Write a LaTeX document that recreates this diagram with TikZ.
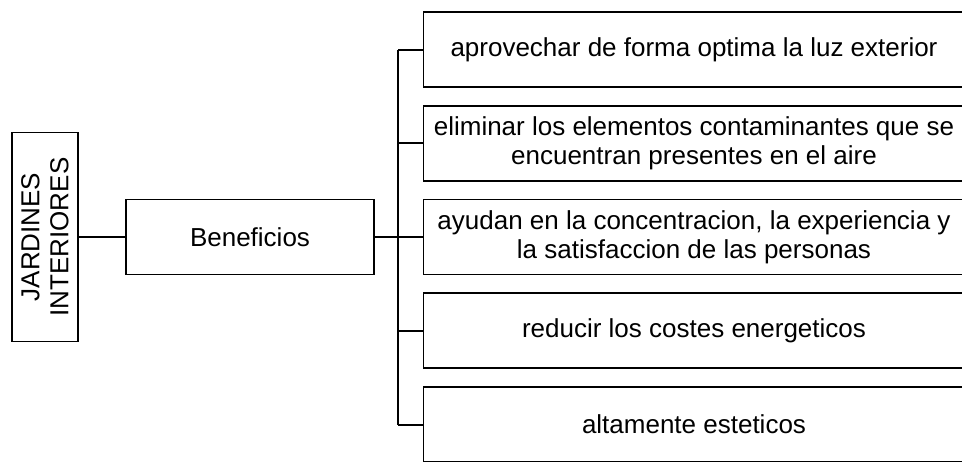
\documentclass[tikz,border=0pt]{standalone}
\usepackage{fontspec}
\setmainfont{Liberation Sans}
\begin{document}
\begin{tikzpicture}[x=1pt,y=-1pt,
  every node/.style={font=\fontsize{26}{29}\selectfont, align=center, inner sep=0pt},
  box/.style={draw, line width=1.8pt},
  benbox/.style={box, minimum width=541pt, minimum height=75pt},
  conn/.style={line width=2pt}]
\clip (0,0) rectangle (962,461);
\fill[white] (0,0) rectangle (962,461);
\node[box, rotate=90, minimum width=209pt, minimum height=66pt] (jar) at (45,237) {JARDINES\\INTERIORES};
\node[box, minimum width=248pt, minimum height=75pt] (ben) at (250,237) {Beneficios};
\node[benbox] (b1) at (694,49.5) {aprovechar de forma optima la luz exterior};
\node[benbox] (b2) at (694,143.25) {eliminar los elementos contaminantes que se\\encuentran presentes en el aire};
\node[benbox] (b3) at (694,237) {ayudan en la concentracion, la experiencia y\\la satisfaccion de las personas};
\node[benbox] (b4) at (694,330.75) {reducir los costes energeticos};
\node[benbox] (b5) at (694,424.5) {altamente esteticos};
\coordinate (t) at (398,237);
\draw[conn] (jar.south) -- (ben.west);
\draw[line width=2.6pt] (ben.east) -- (t);
\draw[line width=2.4pt] (t |- b1.west) -- (t |- b5.west);
\foreach \b in {b1,b2,b3,b4,b5} \draw[conn] (t |- \b.west) -- (\b.west);
\end{tikzpicture}
\end{document}
